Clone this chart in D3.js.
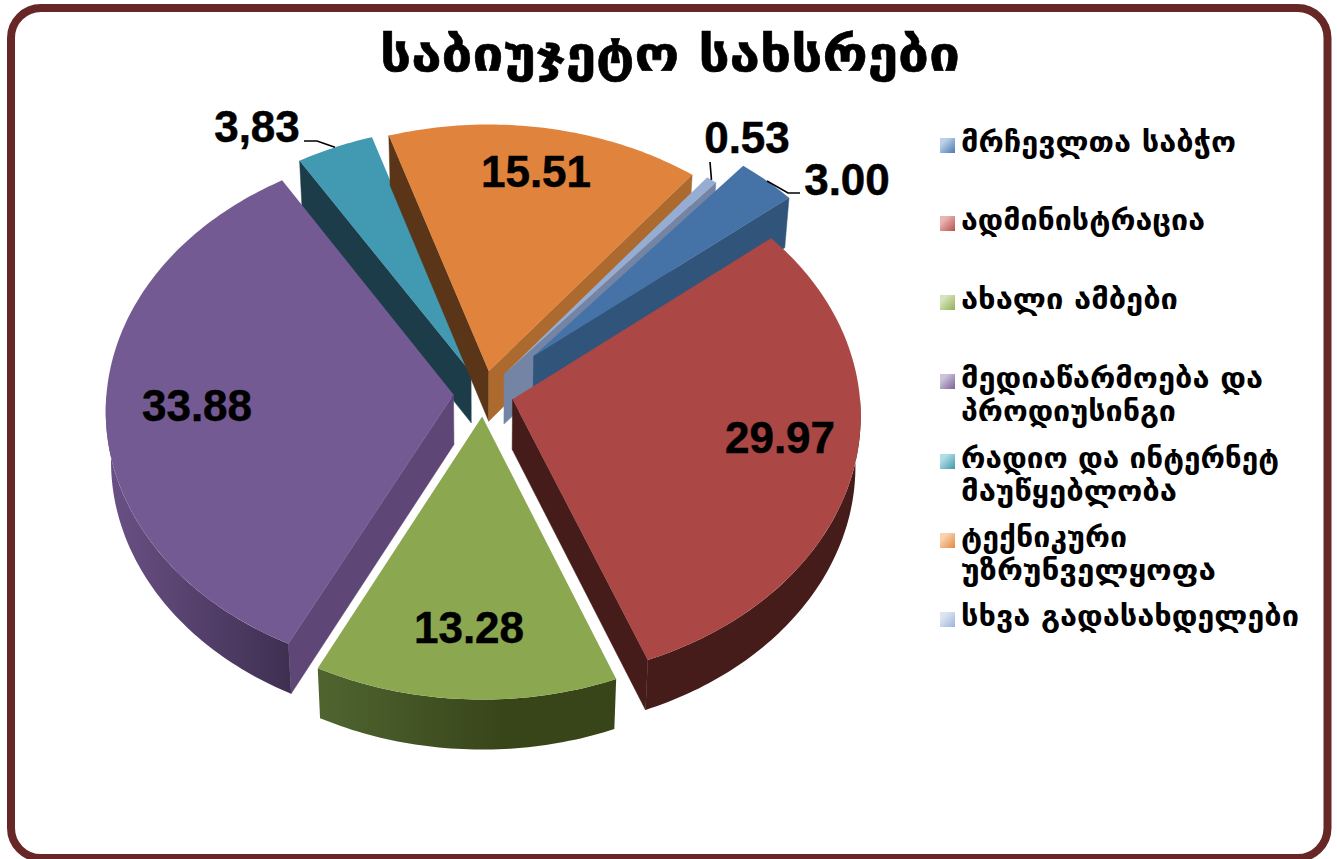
<!DOCTYPE html>
<html><head><meta charset="utf-8">
<script src="https://cdn.jsdelivr.net/npm/d3@7/dist/d3.min.js"></script>
<style>html,body{margin:0;padding:0;background:#fff;overflow:hidden}svg{display:block}</style>
</head><body><svg id="c" width="1337" height="859"></svg>
<script>
// ---- data
const titleText = "საბიუჯეტო სახსრები";
const categories = ["მრჩევლთა საბჭო","ადმინისტრაცია","ახალი ამბები","მედიაწარმოება და პროდიუსინგი","რადიო და ინტერნეტ მაუწყებლობა","ტექნიკური უზრუნველყოფა","სხვა გადასახდელები"];
const values = [3.00,29.97,13.28,33.88,3.83,15.51,0.53];
const valueLabels = ["3.00","29.97","13.28","33.88","3,83","15.51","0.53"];
// ---- styles
const topColors = ["#4573a8","#ab4744","#8ba850","#745a92","#429ab2","#e0843d","#96add3"];
const startWallColors = ["#31547a","#451c19","#384519","#5e4676","#1b3c48","#5a3517","#7484a5"];
const endWallColors   = ["#31547a","#451c19","#384519","#5e4676","#1b3c48","#ad6a2f","#7484a5"];
const rimStops = [["#31547a","#31547a"],["#451c19","#451c19"],["#384519","#4f6530"],["#3f3052","#6b5186"],["#1b3c48","#1b3c48"],["#5a3517","#5a3517"],["#7484a5","#7484a5"]];
const legendDark = ["#4a7bb0","#b8504d","#93ae58","#7a6197","#3f97ae","#e08a40","#9fb4d8"];
const legendLight = ["#bcd0e8","#eab5b3","#d6e4bb","#cdc3da","#b2dde6","#fbd2ae","#dde5f3"];
const explode = [71,30,30,30,30,30,33];
const drawOrder = [4,5,6,0,3,1,2];
const labelPos = [[847,195],[780,453],[469,643],[197,421],[257,142],[536,187],[747,153]];
const leaderElbows = [[[788,193],[800,193]],null,null,null,[[317,141],[304,141]],null,[[710,162]]];
const legendY = [145,223,302,381,461,540,619];
const legendLines = [["მრჩევლთა საბჭო"],["ადმინისტრაცია"],["ახალი ამბები"],["მედიაწარმოება და","პროდიუსინგი"],["რადიო და ინტერნეტ","მაუწყებლობა"],["ტექნიკური","უზრუნველყოფა"],["სხვა გადასახდელები"]];
const legendWidths = [[275],[244],[217],[302,215],[318,216],[166,255],[338]];
const geoFont = "'DejaVu Sans', 'Noto Sans', sans-serif";

// ---- geometry
const W=1337,H=859, cx=483.5, cy=393.5, R=347, D=R*17, tilt=0.76, depth=50, shrink=0.986, startDeg=40;
const svg=d3.select("#c"), defs=svg.append("defs");
svg.append("rect").attr("x",11).attr("y",8).attr("width",1316.5).attr("height",850).attr("rx",30)
   .attr("fill","#fff").attr("stroke","#672726").attr("stroke-width",8);

const rad=d=>d*Math.PI/180;
const pie=d3.pie().sort(null).startAngle(rad(startDeg)).endAngle(rad(startDeg+360));
const arcs=pie(values);
function proj(wx,wz,down){
  const s=1/(1-wz/D);
  const k=down?shrink:1;
  return [cx+wx*s*k, cy+tilt*wz*s+(down?depth:0)];
}
const line=d3.line();
arcs.forEach((a,i)=>{a.mid=(a.startAngle+a.endAngle)/2;a.ox=explode[i]*Math.sin(a.mid);a.oz=-explode[i]*Math.cos(a.mid);});
const pt=(a,r,t,down)=>proj(a.ox+r*Math.sin(t),a.oz-r*Math.cos(t),down);
const samples=(t0,t1,n=Math.max(3,Math.ceil((t1-t0)*60)))=>d3.range(n+1).map(j=>t0+(t1-t0)*j/n);

drawOrder.forEach(i=>{
  const a=arcs[i], g=svg.append("g");
  const apexT=pt(a,0,0,false), apexB=pt(a,0,0,true);
  const midRim=pt(a,R,a.mid,false);
  const side=(t,color)=>{
    const rim=pt(a,R,t,false), rimB=pt(a,R,t,true);
    const e=[rim[0]-apexT[0],rim[1]-apexT[1]], n=[midRim[0]-apexT[0],midRim[1]-apexT[1]];
    const crossDown=e[0], crossIn=e[0]*n[1]-e[1]*n[0];
    if(crossDown*crossIn<0) g.append("path").attr("d",line([apexT,rim,rimB,apexB])+"Z").attr("fill",color).attr("stroke",color).attr("stroke-width",.5);
  };
  side(a.startAngle,startWallColors[i]);
  side(a.endAngle,endWallColors[i]);
  const t0=Math.max(a.startAngle,Math.PI/2), t1=Math.min(a.endAngle,Math.PI*1.5);
  if(t1>t0){
    const ts=samples(t0,t1);
    const top=ts.map(t=>pt(a,R,t,false)), bot=ts.map(t=>pt(a,R,t,true)).reverse();
    const xs=d3.extent(top,p=>p[0]);
    const id="rim"+i;
    const gr=defs.append("linearGradient").attr("id",id).attr("gradientUnits","userSpaceOnUse").attr("x1",cx).attr("x2",xs[0]<cx?xs[0]:xs[1]).attr("y1",0).attr("y2",0);
    if(i===3){gr.attr("x1",xs[1]).attr("x2",xs[0]);}
    if(i===2){gr.attr("x1",cx+20).attr("x2",xs[0]);}
    gr.append("stop").attr("offset",0).attr("stop-color",rimStops[i][0]);
    gr.append("stop").attr("offset",1).attr("stop-color",rimStops[i][1]);
    g.append("path").attr("d",line(top.concat(bot))+"Z").attr("fill",`url(#${id})`);
  }
  const face=[apexT].concat(samples(a.startAngle,a.endAngle).map(t=>pt(a,R,t,false)));
  g.append("path").attr("d",line(face)+"Z").attr("fill",topColors[i]);
});

// leaders
arcs.forEach((a,i)=>{
  if(!leaderElbows[i])return;
  const pts=[pt(a,R,a.mid,false)].concat(leaderElbows[i]);
  svg.append("path").attr("d",line(pts)).attr("fill","none").attr("stroke","#000").attr("stroke-width",1.6);
});
// value labels
valueLabels.forEach((t,i)=>{
  svg.append("text").attr("x",labelPos[i][0]).attr("y",labelPos[i][1]).attr("text-anchor","middle")
    .attr("font-family","'Liberation Sans',Arial,sans-serif").attr("font-weight","bold").attr("font-size",44)
    .attr("fill","#000").attr("stroke","#000").attr("stroke-width",.5).text(t);
});
// title
svg.append("text").attr("x",380).attr("y",71).attr("textLength",580).attr("lengthAdjust","spacingAndGlyphs")
  .attr("font-family",geoFont).attr("font-weight","bold").attr("font-size",48)
  .attr("stroke","#000").attr("stroke-width",.6).text(titleText);
// legend
categories.forEach((c,i)=>{
  const id="leg"+i;
  const gr=defs.append("linearGradient").attr("id",id).attr("x1",0).attr("y1",0).attr("x2",1).attr("y2",1);
  gr.append("stop").attr("offset",.25).attr("stop-color",legendLight[i]);
  gr.append("stop").attr("offset",1).attr("stop-color",legendDark[i]);
  svg.append("rect").attr("x",940).attr("y",legendY[i]-7).attr("width",15).attr("height",15).attr("fill",`url(#${id})`);
  legendLines[i].forEach((l,j)=>{
    svg.append("text").attr("x",961).attr("y",legendY[i]+7+j*32.5).attr("textLength",legendWidths[i][j]).attr("lengthAdjust","spacingAndGlyphs")
      .attr("font-family",geoFont).attr("font-weight","bold").attr("font-size",28).text(l);
  });
});
</script></body></html>
